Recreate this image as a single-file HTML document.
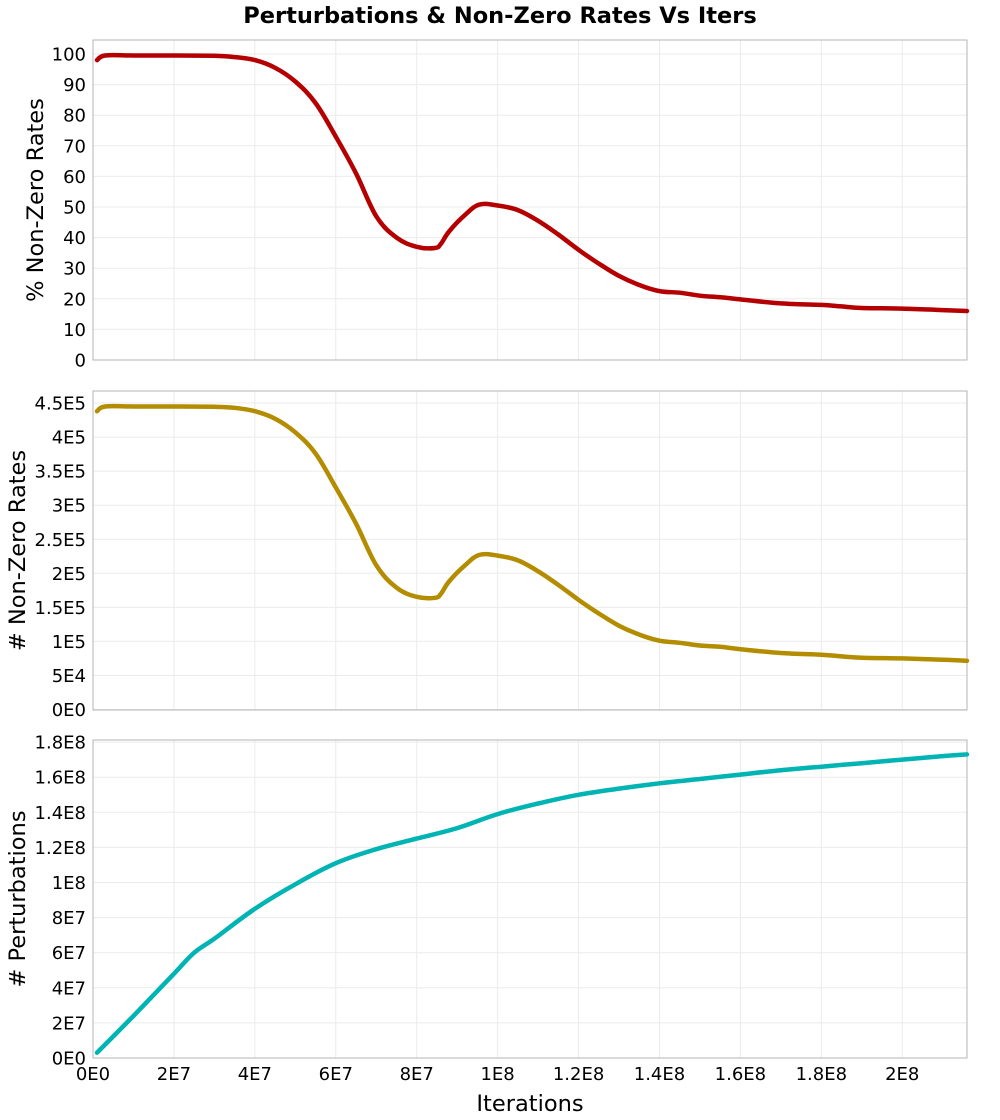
<!DOCTYPE html>
<html><head><meta charset="utf-8">
<style>
body{margin:0;background:#fff;}
svg{display:block;font-family:"DejaVu Sans","Liberation Sans",sans-serif;}
</style></head>
<body>
<svg id="chart" width="1000" height="1120" viewBox="0 0 1000 1120" xmlns="http://www.w3.org/2000/svg">
<text x="500" y="23" text-anchor="middle" font-size="22.5" font-weight="bold">Perturbations &amp; Non-Zero Rates Vs Iters</text>
<text x="530" y="1111" text-anchor="middle" font-size="22.5">Iterations</text>
</svg>
<script>
// x values in units of 1E7 iterations
const xTicks = [0, 2, 4, 6, 8, 10, 12, 14, 16, 18, 20];
const xTickLabels = ["0E0","2E7","4E7","6E7","8E7","1E8","1.2E8","1.4E8","1.6E8","1.8E8","2E8"];
const xMax = 21.6;

const pctX = [0.1,0.3,1,2,3,3.5,4,4.5,5,5.5,6,6.5,7,7.5,8,8.45,8.6,8.8,9.2,9.55,10,10.5,11,11.5,12,12.5,13,13.5,14,14.5,15,15.5,16,17,18,18.5,19,20,21,21.6];
const pctY = [98,99.5,99.5,99.5,99.4,99,98,95.5,91,84,73,61,47,40,37,36.6,38,42,47.5,50.8,50.5,49,45.5,41,36,31.5,27.5,24.5,22.5,22,21,20.5,19.8,18.5,18,17.5,17,16.8,16.3,16];
const pctTicks = [0,10,20,30,40,50,60,70,80,90,100];
const pctTickLabels = ["0","10","20","30","40","50","60","70","80","90","100"];

const cntX = pctX;
const cntY = [4.38,4.45,4.45,4.45,4.445,4.43,4.38,4.27,4.07,3.76,3.26,2.73,2.12,1.79,1.655,1.64,1.70,1.88,2.12,2.27,2.26,2.19,2.03,1.83,1.61,1.41,1.23,1.10,1.01,0.98,0.94,0.92,0.885,0.83,0.805,0.78,0.76,0.75,0.73,0.715];
const cntTicks = [0,0.5,1,1.5,2,2.5,3,3.5,4,4.5];
const cntTickLabels = ["0E0","5E4","1E5","1.5E5","2E5","2.5E5","3E5","3.5E5","4E5","4.5E5"];

const pertX = [0.1,1,2,2.5,3,4,5,6,7,8,9,10,11,12,13,14,15,16,17,18,19,20,21,21.6];
const pertY = [0.3,2.4,4.8,6.0,6.8,8.5,9.9,11.1,11.9,12.5,13.1,13.9,14.5,15.0,15.35,15.65,15.9,16.15,16.4,16.6,16.8,17.0,17.2,17.3];
const pertTicks = [0,2,4,6,8,10,12,14,16,18];
const pertTickLabels = ["0E0","2E7","4E7","6E7","8E7","1E8","1.2E8","1.4E8","1.6E8","1.8E8"];

const NS = "http://www.w3.org/2000/svg";
const svg = document.getElementById("chart");
const L = 93, R = 967;
function xs(v){ return L + v*(R-L)/xMax; }
function mk(tag, attrs, parent){ const e=document.createElementNS(NS,tag); for(const k in attrs) e.setAttribute(k,attrs[k]); (parent||svg).appendChild(e); return e; }
function smoothPath(p){
  let d = "M"+p[0][0].toFixed(1)+","+p[0][1].toFixed(1);
  for(let i=0;i<p.length-1;i++){
    const p0=p[Math.max(0,i-1)], p1=p[i], p2=p[i+1], p3=p[Math.min(p.length-1,i+2)];
    const t=0.18;
    const c1=[p1[0]+(p2[0]-p0[0])*t, p1[1]+(p2[1]-p0[1])*t];
    const c2=[p2[0]-(p3[0]-p1[0])*t, p2[1]-(p3[1]-p1[1])*t];
    d += " C"+c1[0].toFixed(1)+","+c1[1].toFixed(1)+" "+c2[0].toFixed(1)+","+c2[1].toFixed(1)+" "+p2[0].toFixed(1)+","+p2[1].toFixed(1);
  }
  return d;
}

function panel(name, top, bottom, zeroY, pxPerUnit, ticks, labels, xd, yd, color, title, titleX, showX){
  const g = mk("g",{});
  
  
  const ys = v => zeroY - v*pxPerUnit;
  xTicks.forEach((t,i)=>{
    const l = mk("line",{x1:xs(t),x2:xs(t),y1:top,y2:bottom,stroke:"#ebebeb","stroke-width":1},g);
    
    
    if(showX){
      const tx = mk("text",{x:xs(t),y:bottom+22,"text-anchor":"middle","font-size":18},g);
      
      
      tx.textContent = xTickLabels[i];
    }
  });
  ticks.forEach((t,i)=>{
    const y = ys(t);
    const l = mk("line",{x1:L,x2:R,y1:y,y2:y,stroke:"#ebebeb","stroke-width":1},g);
    
    
    const tx = mk("text",{x:L-7,y:y+6.5,"text-anchor":"end","font-size":18},g);
    
    
    tx.textContent = labels[i];
  });
  const fr = mk("rect",{x:L,y:top,width:R-L,height:bottom-top,fill:"none",stroke:"#b4b4b4","stroke-width":1},g);
  
  
  const pts = xd.map((x,i)=>[xs(x), ys(yd[i])]);
  const pl = mk("path",{d:smoothPath(pts),fill:"none",stroke:color,"stroke-width":4.5,"stroke-linejoin":"round","stroke-linecap":"round"},g);
  
  
  const cy = (top+bottom)/2;
  const tt = mk("text",{x:titleX,y:cy,"text-anchor":"middle","font-size":22.5,transform:"rotate(-90 "+titleX+" "+cy+")"},g);
  
  
  tt.textContent = title;
}
panel("pct-nonzero",40,360,360,3.06,pctTicks,pctTickLabels,pctX,pctY,"#b40000","% Non-Zero Rates",43,false);
panel("count-nonzero",391,710,709.5,68.1,cntTicks,cntTickLabels,cntX,cntY,"#b48c00","# Non-Zero Rates",25,false);
panel("perturbations",740,1058,1058,17.55,pertTicks,pertTickLabels,pertX,pertY,"#00b4b4","# Perturbations",25,true);
</script>
</body></html>
